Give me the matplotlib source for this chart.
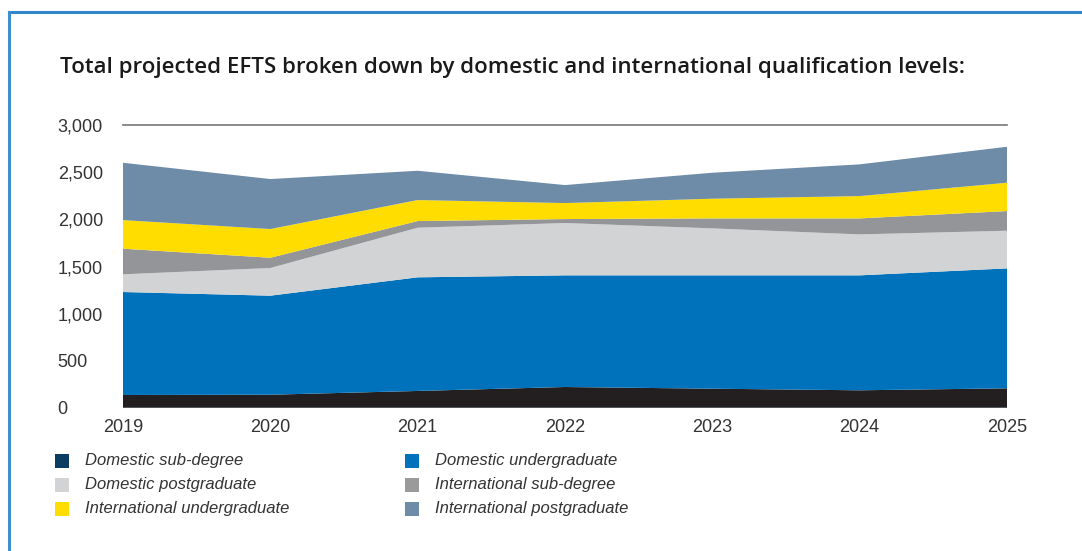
import matplotlib
matplotlib.use("Agg")
import matplotlib.pyplot as plt
from matplotlib.patches import Rectangle
from matplotlib.lines import Line2D

years = [2019, 2020, 2021, 2022, 2023, 2024, 2025]
domestic_sub_degree = [135, 138, 178, 220, 202, 185, 206]
domestic_undergraduate = [1094, 1052, 1207, 1186, 1204, 1221, 1274]
domestic_postgraduate = [188, 294, 527, 556, 499, 435, 400]
international_sub_degree = [272, 109, 71, 42, 106, 170, 209]
international_undergraduate = [304, 305, 223, 170, 209, 237, 301]
international_postgraduate = [609, 531, 311, 191, 276, 337, 382]

series_labels = [
    "Domestic sub-degree", "Domestic undergraduate",
    "Domestic postgraduate", "International sub-degree",
    "International undergraduate", "International postgraduate",
]
y_ticks = [0, 500, 1000, 1500, 2000, 2500, 3000]

area_colors = ["#231f20", "#0071bb", "#d1d3d4", "#939598", "#ffdd00", "#6e8ba8"]
legend_colors = ["#0b3c61", "#0071bb", "#d1d3d4", "#9a9a9a", "#ffdd00", "#6e8ba8"]
text_color = "#333333"

fig = plt.figure(figsize=(10.82, 5.51), dpi=100)

# frame lines along the top and left edge
fig.add_artist(Line2D([9 / 1082, 1.0], [1 - 11.5 / 551, 1 - 11.5 / 551],
                      transform=fig.transFigure, color="#2f86c8", lw=2.2))
fig.add_artist(Line2D([9 / 1082, 9 / 1082], [0, 1 - 11.5 / 551],
                      transform=fig.transFigure, color="#3f8fcf", lw=2.2))

fig.text(60 / 1082, 1 - 68 / 551,
         "Total projected EFTS broken down by domestic and international qualification levels:",
         fontsize=16, fontfamily="Open Sans", fontweight="semibold",
         color="#1a1a1a", va="center", ha="left")

ax = fig.add_axes([123 / 1082, 1 - 407.7 / 551, 884 / 1082, 282.4 / 551])
ax.stackplot(years,
             domestic_sub_degree, domestic_undergraduate, domestic_postgraduate,
             international_sub_degree, international_undergraduate,
             international_postgraduate,
             colors=area_colors, linewidth=0)
ax.plot(years, [0] * len(years), color="#1f3b57", lw=1.0, zorder=3)

ax.set_xlim(years[0], years[-1])
ax.set_ylim(0, 3000)
ax.axhline(3000, color="#777777", lw=1.2, clip_on=False)

for s in ax.spines.values():
    s.set_visible(False)

ax.set_yticks(y_ticks)
ax.set_yticklabels([f"{v:,}" for v in y_ticks])
ax.set_xticks(years)
ax.set_xticklabels([str(y) for y in years])
ax.tick_params(axis="both", length=0, labelcolor=text_color, labelsize=13)
ax.tick_params(axis="y", pad=47)
ax.tick_params(axis="x", pad=8)
for lbl in ax.get_yticklabels():
    lbl.set_horizontalalignment("left")
    lbl.set_fontfamily("Liberation Sans")
for lbl in ax.get_xticklabels():
    lbl.set_fontfamily("Liberation Sans")

# legend laid out in two columns beneath the plot
col_x = [55, 405]
row_y = [461, 485, 509]
for i, (label, color) in enumerate(zip(series_labels, legend_colors)):
    cx = col_x[i % 2]
    cy = row_y[i // 2]
    fig.add_artist(Rectangle((cx / 1082, 1 - (cy + 7) / 551), 14 / 1082, 14 / 551,
                             transform=fig.transFigure, color=color, lw=0))
    fig.text((cx + 30) / 1082, 1 - cy / 551, label, fontsize=12,
             fontstyle="italic", fontfamily="Liberation Sans",
             color=text_color, va="center", ha="left")

fig.savefig("out.png", dpi=100)
